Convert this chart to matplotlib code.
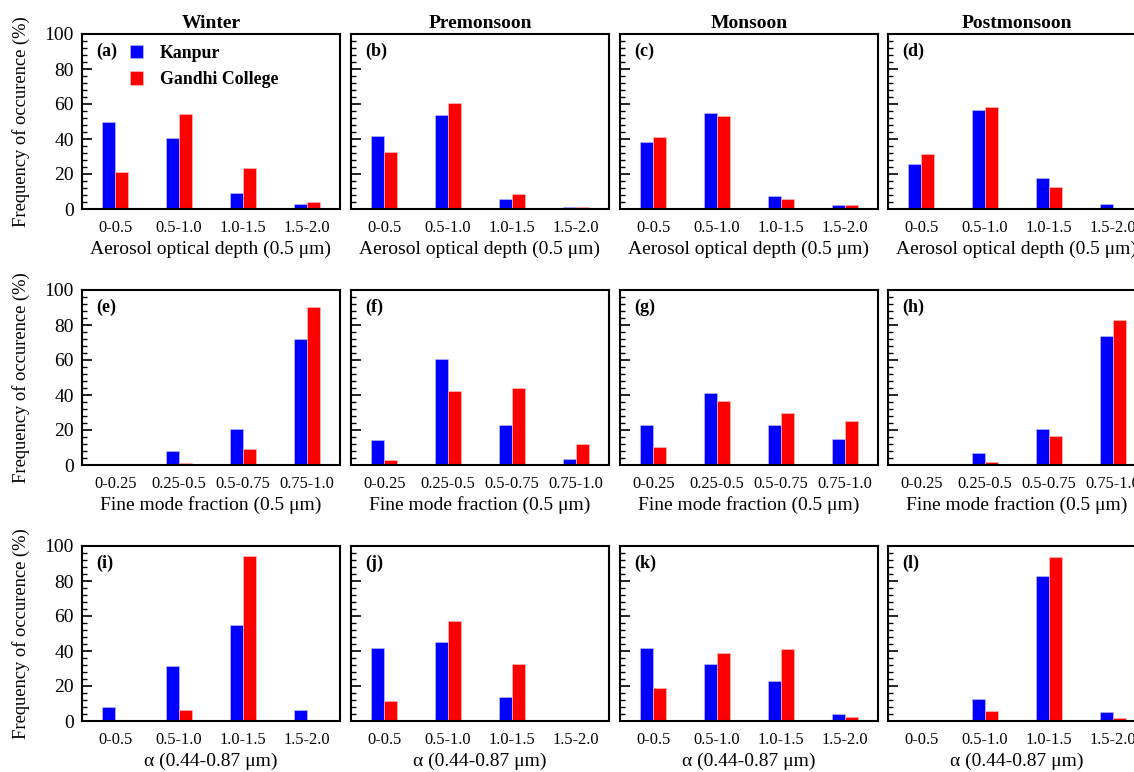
import matplotlib.pyplot as plt
import matplotlib.transforms as mtransforms
from matplotlib.ticker import MultipleLocator
import numpy as np

plt.rcParams['font.family'] = ['Liberation Serif', 'DejaVu Serif']

seasons = ['Winter', 'Premonsoon', 'Monsoon', 'Postmonsoon']
panel_letters = ['(a)', '(b)', '(c)', '(d)', '(e)', '(f)', '(g)', '(h)', '(i)', '(j)', '(k)', '(l)']

aod_bins = ['0-0.5', '0.5-1.0', '1.0-1.5', '1.5-2.0']
fmf_bins = ['0-0.25', '0.25-0.5', '0.5-0.75', '0.75-1.0']
alpha_bins = ['0-0.5', '0.5-1.0', '1.0-1.5', '1.5-2.0']

row_bins = [aod_bins, fmf_bins, alpha_bins]
row_xlabels = ['Aerosol optical depth (0.5 \u03bcm)',
               'Fine mode fraction (0.5 \u03bcm)',
               '\u03b1 (0.44-0.87 \u03bcm)']

# Kanpur, per season
kanpur_aod = [[50.0, 40.8, 9.3, 2.9],
              [41.6, 53.8, 5.9, 1.3],
              [38.2, 55.0, 7.3, 2.3],
              [25.6, 56.7, 17.9, 2.7]]
kanpur_fmf = [[0.4, 8.2, 20.8, 71.8],
              [14.3, 60.6, 22.9, 3.4],
              [22.7, 41.0, 22.9, 14.9],
              [0.3, 6.7, 20.6, 73.7]]
kanpur_alpha = [[8.2, 31.4, 55.0, 6.5],
                [41.5, 45.3, 13.7, 0.8],
                [41.9, 32.8, 22.9, 4.2],
                [0.5, 12.8, 82.9, 5.1]]

# Gandhi College, per season
gandhi_aod = [[21.0, 54.2, 23.5, 4.0],
              [32.8, 60.5, 8.4, 0.9],
              [41.2, 53.4, 5.7, 2.3],
              [31.3, 58.2, 12.4, 0.0]]
gandhi_fmf = [[0.4, 1.3, 8.9, 90.5],
              [2.9, 42.5, 44.0, 12.2],
              [10.1, 36.6, 29.5, 25.3],
              [0.3, 1.5, 16.8, 82.9]]
gandhi_alpha = [[0.0, 6.3, 94.3, 0.0],
                [11.4, 57.0, 32.8, 0.0],
                [18.7, 39.0, 41.1, 2.3],
                [0.0, 5.9, 93.5, 1.5]]

kanpur_rows = [kanpur_aod, kanpur_fmf, kanpur_alpha]
gandhi_rows = [gandhi_aod, gandhi_fmf, gandhi_alpha]

W, H = 1134, 772
fig = plt.figure(figsize=(W / 100, H / 100), dpi=100)

col_left = [82, 351, 620, 888]
row_top = [34, 290, 546]
ax_w, ax_h = 258, 175
bw = 0.2

# tick labels sit a little left of the bar pairs in the original
label_shift = mtransforms.ScaledTranslation(-0.06, 0, fig.dpi_scale_trans)

for r in range(3):
    for c in range(4):
        left = col_left[c] / W
        bottom = 1 - (row_top[r] + ax_h) / H
        ax = fig.add_axes([left, bottom, ax_w / W, ax_h / H])
        x = np.arange(4)
        ax.bar(x - bw / 2, kanpur_rows[r][c], bw, color='#0000ff', edgecolor='#c8c8ff', linewidth=0.4,
               label='Kanpur')
        ax.bar(x + bw / 2, gandhi_rows[r][c], bw, color='#ff0000', edgecolor='#ffc8c8', linewidth=0.4,
               label='Gandhi College')
        ax.set_xlim(-0.52, 3.52)
        ax.set_ylim(0, 100)
        ax.set_xticks(x)
        ax.set_xticklabels(row_bins[r], fontsize=11.8)
        for lab in ax.get_xticklabels():
            lab.set_transform(lab.get_transform() + label_shift)
        ax.tick_params(axis='x', length=0, pad=8)
        ax.yaxis.set_major_locator(MultipleLocator(20))
        ax.yaxis.set_minor_locator(MultipleLocator(4))
        ax.tick_params(axis='y', which='major', direction='in', length=7, width=1.2, labelsize=14, pad=6)
        ax.tick_params(axis='y', which='minor', direction='in', length=3.5, width=1.0)
        for s in ax.spines.values():
            s.set_linewidth(1.5)
        if c == 0:
            ax.set_ylabel('Frequency of occurence (%)', fontsize=13.3, labelpad=10)
        else:
            ax.set_yticklabels([])
        ax.set_xlabel(row_xlabels[r], fontsize=14, labelpad=3)
        if r == 0:
            ax.set_title(seasons[c], fontsize=14, fontweight='bold', pad=4)
        ax.text(0.055, 0.9, panel_letters[r * 4 + c], transform=ax.transAxes,
                fontsize=13, fontweight='bold', va='center', ha='left')
        if r == 0 and c == 0:
            leg = ax.legend(loc='upper left', bbox_to_anchor=(0.186, 0.94), frameon=False,
                            borderpad=0, borderaxespad=0, handlelength=0.72, handleheight=0.82,
                            handletextpad=0.95, labelspacing=0.55,
                            prop={'weight': 'bold', 'size': 12.8})

fig.savefig('out.png', dpi=100)
